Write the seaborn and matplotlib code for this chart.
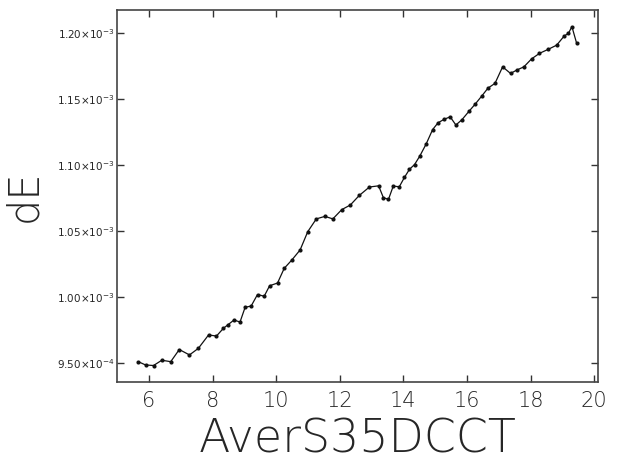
import pandas as pd
import matplotlib
matplotlib.use("Agg")
import matplotlib.pyplot as plt
import matplotlib.ticker as mticker
import seaborn as sns

# values
averS35DCCT = [5.66, 5.89, 6.14, 6.40, 6.68, 6.95, 7.27, 7.55, 7.87, 8.12,
               8.34, 8.49, 8.67, 8.86, 9.02, 9.21, 9.41, 9.62, 9.79, 10.04,
               10.25, 10.49, 10.75, 10.99, 11.26, 11.53, 11.78, 12.06, 12.33, 12.61,
               12.93, 13.22, 13.37, 13.53, 13.68, 13.87, 14.03, 14.19, 14.35, 14.51,
               14.71, 14.92, 15.09, 15.28, 15.47, 15.65, 15.84, 16.06, 16.25, 16.47,
               16.66, 16.88, 17.12, 17.37, 17.56, 17.79, 18.03, 18.28, 18.56, 18.82,
               19.06, 19.19, 19.30, 19.45]
dE_milli = [0.9512, 0.9487, 0.9483, 0.9523, 0.9512, 0.9604, 0.9563, 0.9613, 0.9714, 0.9706,
            0.9765, 0.9793, 0.9827, 0.9812, 0.9923, 0.9933, 1.0020, 1.0007, 1.0086, 1.0107,
            1.0218, 1.0281, 1.0357, 1.0495, 1.0592, 1.0611, 1.0592, 1.0662, 1.0697, 1.0769,
            1.0833, 1.0842, 1.0752, 1.0740, 1.0840, 1.0835, 1.0905, 1.0967, 1.1003, 1.1065,
            1.1156, 1.1268, 1.1319, 1.1345, 1.1364, 1.1302, 1.1342, 1.1405, 1.1458, 1.1523,
            1.1581, 1.1617, 1.1742, 1.1692, 1.1717, 1.1742, 1.1802, 1.1844, 1.1875, 1.1906,
            1.1976, 1.1995, 1.2046, 1.1919]
yTicks = [0.95e-3, 1.00e-3, 1.05e-3, 1.10e-3, 1.15e-3, 1.20e-3]
xTicks = [6, 8, 10, 12, 14, 16, 18, 20]

data = pd.DataFrame({"AverS35DCCT": averS35DCCT, "dE": [v * 1e-3 for v in dE_milli]})

sns.set_style("ticks")
plt.rcParams['font.family'] = ['DejaVu Sans']
plt.rcParams['mathtext.fontset'] = 'dejavusans'

fig = plt.figure(figsize=(6.22, 4.62), dpi=100)
ax = fig.add_axes([0.1886, 0.1725, 0.7733, 0.8059])

sns.lineplot(data=data, x="AverS35DCCT", y="dE", ax=ax, color="#111111",
             linewidth=0.9, marker="o", markersize=3, markeredgewidth=0)

ax.set_xlim(5.0, 20.13)
ax.set_ylim(0.9356e-3, 1.2172e-3)
ax.set_xticks(xTicks)
ax.set_yticks(yTicks)


def sciFormat(v, pos):
  mant, exp = f"{v:.2e}".split("e")
  return r"$%s{\times}10^{%d}$" % (mant, int(exp))


ax.yaxis.set_major_formatter(mticker.FuncFormatter(sciFormat))
ax.tick_params(direction="in", length=5, width=1, color="#333333",
               top=True, right=True)
ax.tick_params(axis="y", labelsize=7.5, pad=2)
ax.tick_params(axis="x", labelsize=15, pad=6)
for lbl in ax.get_xticklabels():
  lbl.set_fontweight("light")
for s in ax.spines.values():
  s.set_linewidth(1.2)
  s.set_color("#444444")

ax.set_xlabel("AverS35DCCT", fontsize=33, fontweight="light", labelpad=5)
ax.set_ylabel("dE", fontsize=30, fontweight="light", labelpad=9)

fig.savefig("out.png", dpi=100)
